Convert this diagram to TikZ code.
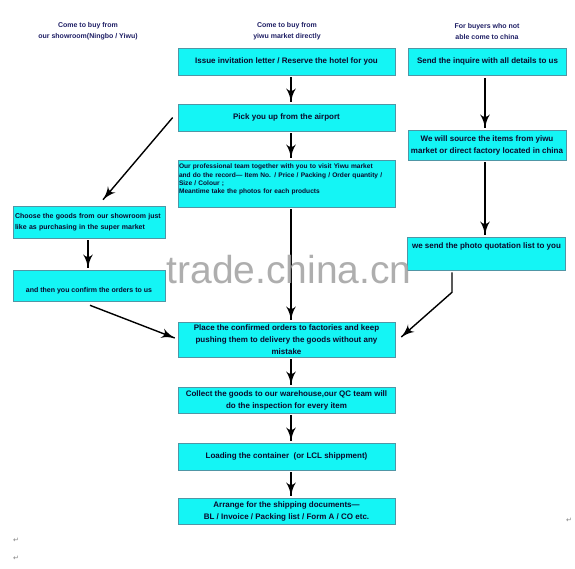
\documentclass[tikz,border=0pt]{standalone}
\usepackage{fontspec}
\setmainfont{Liberation Sans}
\newfontfamily\symfont{DejaVu Sans}
\usetikzlibrary{arrows}
\usetikzlibrary{decorations.markings}
\tikzset{flow/.style = {line width=1.4pt,
                        decoration={markings,
                                    mark=at position 1 with {\arrow[scale=1.9]{latex'}}},
                        postaction={decorate}}}
\tikzset{box/.style = {draw=boxline, fill=boxcyan, line width=0.6pt, inner sep=2pt,
                       font=\fontsize{8}{12}\selectfont\bfseries, text=mink, align=center}}
\tikzset{smallbox/.style = {box, font=\fontsize{7}{8.2}\selectfont\bfseries}}
\tikzset{midbox/.style = {box, minimum width=217pt}}
\tikzset{sidebox/.style = {box, minimum width=158pt}}
\tikzset{head/.style = {font=\fontsize{7}{11}\selectfont\bfseries, text=mnavy, align=center}}
\tikzset{wmark/.style = {font=\fontsize{39}{39}\selectfont, text=wmgray, opacity=0.85}}
\tikzset{pmark/.style = {font=\symfont\fontsize{7}{7}\selectfont, text=gray, inner sep=0}}
\definecolor{boxcyan}{RGB}{20,245,245}
\definecolor{boxline}{RGB}{80,150,165}
\definecolor{mnavy}{RGB}{30,30,100}
\definecolor{mink}{RGB}{10,10,45}
\definecolor{wmgray}{RGB}{160,160,160}

\begin{document}
\begin{tikzpicture}[x=1pt, y=-1pt]
      \useasboundingbox (0, 0) rectangle (575, 568);
      \coordinate (mid) at (291, 0);
      \coordinate (right) at (485, 0);

      \node [head] (hleft) at (88, 31) {Come to buy from\\our showroom(Ningbo / Yiwu)};
      \node [head] (hmid) at (287, 31) {Come to buy from\\yiwu market directly};
      \node [head] (hright) at (487, 31) {For buyers who not\\able come to china};

      \node [midbox, minimum height=27pt] (issue) at (286.5, 61.5)
            {Issue invitation letter / Reserve the hotel for you};
      \node [midbox, minimum height=27pt] (pick) at (286.5, 117.5)
            {Pick you up from the airport};
      \node [smallbox, font=\fontsize{6.6}{8.2}\selectfont\bfseries, inner sep=1pt,
             text width=215pt, align=left, minimum height=47pt] (team) at (286.5, 183.5)
            {Our professional team together with you to visit Yiwu market\\
             and do the record--- Item No. / Price / Packing / Order quantity /\\
             Size / Colour ;\\
             Meantime take the photos for each products\\[1pt] \mbox{}};
      \node [midbox, minimum height=35pt] (place) at (286.5, 339.5)
            {Place the confirmed orders to factories and keep\\
             pushing them to delivery the goods without any\\
             mistake};
      \node [midbox, minimum height=26pt] (collect) at (286.5, 400)
            {Collect the goods to our warehouse,our QC team will\\
             do the inspection for every item};
      \node [midbox, minimum height=27pt] (load) at (286.5, 456.5)
            {Loading the container~ (or LCL shippment)};
      \node [midbox, minimum height=26pt] (arrange) at (286.5, 511)
            {Arrange for the shipping documents---\\
             BL / Invoice / Packing list / Form A / CO etc.};

      \node [sidebox, minimum height=27pt] (send) at (487.5, 61.5)
            {Send the inquire with all details to us};
      \node [sidebox, minimum height=30pt] (source) at (487, 145)
            {We will source the items from yiwu\\
             market or direct factory located in china};
      \node [sidebox, font=\fontsize{8}{8.2}\selectfont\bfseries, minimum height=33pt] (photo) at (486.5, 253.5)
            {we send the photo quotation list to you\\ \mbox{}\\ \mbox{}};

      \node [smallbox, font=\fontsize{7}{11}\selectfont\bfseries, text width=148pt, align=left,
             minimum height=32pt] (choose) at (89, 222)
            {Choose the goods from our showroom just\\
             like as purchasing in the super market};
      \node [smallbox, minimum width=152pt, minimum height=31pt] (confirm) at (89, 285.5)
            {\mbox{}\\ \mbox{}\\ and then you confirm the orders to us};

      \draw [flow] ([yshift=-2pt]issue.south -| mid) -- ([yshift=2pt]pick.north -| mid);
      \draw [flow] ([yshift=-2pt]pick.south -| mid) -- ([yshift=2pt]team.north -| mid);
      \draw [flow] ([yshift=-2pt]team.south -| mid) -- ([yshift=2pt]place.north -| mid);
      \draw [flow] ([yshift=-2pt]place.south -| mid) -- ([yshift=2pt]collect.north -| mid);
      \draw [flow] ([yshift=-2pt]collect.south -| mid) -- ([yshift=2pt]load.north -| mid);
      \draw [flow] ([yshift=-2pt]load.south -| mid) -- ([yshift=2pt]arrange.north -| mid);

      \draw [flow] ([yshift=-3pt]send.south -| right) -- ([yshift=2pt]source.north -| right);
      \draw [flow] ([yshift=-2pt]source.south -| right) -- ([yshift=2pt]photo.north -| right);

      \draw [flow] ([xshift=-5pt]pick.west) -- ([xshift=14pt, yshift=6pt]choose.north);
      \draw [flow] ([xshift=-1pt, yshift=-2pt]choose.south) -- ([xshift=-1pt, yshift=2pt]confirm.north);
      \draw [flow] ([xshift=1pt, yshift=-4pt]confirm.south) -- ([xshift=-3pt, yshift=1.5pt]place.west);
      \draw [flow] ([xshift=-34.5pt, yshift=-2pt]photo.south) -- ++(0, 20)
                   -- ([xshift=6pt, yshift=2.5pt]place.east);

      % watermark and paragraph marks
      \node [wmark, anchor=base west] (wm) at (163, 283) {trade.china.cn};
      \node [pmark] (p1) at (16, 540) {↵};
      \node [pmark] (p2) at (16, 558) {↵};
      \node [pmark] (p3) at (569, 520) {↵};
\end{tikzpicture}
\end{document}
